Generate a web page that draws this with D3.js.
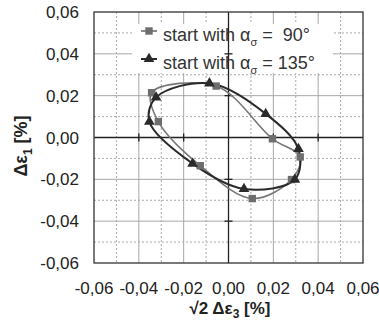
<!DOCTYPE html>
<html>
<head>
<meta charset="utf-8">
<script src="https://cdn.jsdelivr.net/npm/d3@7"></script>
<style>
  body { margin: 0; background: #fff; }
  text { font-family: "Liberation Sans", Arial, sans-serif; }
</style>
</head>
<body>
<script>
//Size of the page
var w = 379;
var h = 327;

//Data: loop starting with alpha = 90 deg (squares)
var sq90X = [-0.0343, -0.0055, 0.0196, 0.0320, 0.0281, 0.0106, -0.0126, -0.0313];
var sq90Y = [0.0214, 0.0246, -0.0006, -0.0093, -0.0201, -0.0292, -0.0135, 0.0076];

//Data: loop starting with alpha = 135 deg (triangles)
var tr135X = [-0.0323, -0.0085, 0.0166, 0.0312, 0.0296, 0.0069, -0.0160, -0.0353];
var tr135Y = [0.0192, 0.0259, 0.0113, -0.0055, -0.0201, -0.0246, -0.0125, 0.0076];

//Tick labels
var majorTicks = [-0.06, -0.04, -0.02, 0, 0.02, 0.04, 0.06];
var minorTicks = [-0.05, -0.03, -0.01, 0.01, 0.03, 0.05];
var tickLabels = ["-0,06", "-0,04", "-0,02", "0,00", "0,02", "0,04", "0,06"];

var legendNames = ["\u00a090°", "135°"];

//Plot area
var pLeft = 94, pRight = 363, pTop = 12, pBottom = 263;

var x = d3.scaleLinear().domain([-0.06, 0.06]).range([pLeft, pRight]);
var y = d3.scaleLinear().domain([-0.06, 0.06]).range([pBottom, pTop]);

var svg = d3.select("body")
            .append("svg")
            .attr("width", w)
            .attr("height", h);

//Minor (dotted) grid
svg.selectAll("line.vminor")
   .data(minorTicks).enter().append("line")
   .attr("x1", function(d) { return x(d); }).attr("x2", function(d) { return x(d); })
   .attr("y1", pTop).attr("y2", pBottom)
   .attr("stroke", "#aaa").attr("stroke-dasharray", "2,2");
svg.selectAll("line.hminor")
   .data(minorTicks).enter().append("line")
   .attr("y1", function(d) { return y(d); }).attr("y2", function(d) { return y(d); })
   .attr("x1", pLeft).attr("x2", pRight)
   .attr("stroke", "#aaa").attr("stroke-dasharray", "2,2");

//Major (solid) grid
var majorInner = majorTicks.filter(function(d) { return d != 0 && Math.abs(d) < 0.06; });
svg.selectAll("line.vmajor")
   .data(majorInner).enter().append("line")
   .attr("x1", function(d) { return x(d); }).attr("x2", function(d) { return x(d); })
   .attr("y1", pTop).attr("y2", pBottom)
   .attr("stroke", "#a8a8a8");
svg.selectAll("line.hmajor")
   .data(majorInner).enter().append("line")
   .attr("y1", function(d) { return y(d); }).attr("y2", function(d) { return y(d); })
   .attr("x1", pLeft).attr("x2", pRight)
   .attr("stroke", "#a8a8a8");

//Legend background covers the grid
svg.append("rect")
   .attr("x", 132).attr("y", 24)
   .attr("width", 201).attr("height", 49)
   .attr("fill", "#fff");

//Zero axes with crossing ticks
svg.append("line")
   .attr("x1", x(0)).attr("x2", x(0)).attr("y1", pTop).attr("y2", pBottom)
   .attr("stroke", "#222").attr("stroke-width", 1.3);
svg.append("line")
   .attr("y1", y(0)).attr("y2", y(0)).attr("x1", pLeft).attr("x2", pRight)
   .attr("stroke", "#222").attr("stroke-width", 1.3);
svg.selectAll("line.xtick")
   .data(majorInner).enter().append("line")
   .attr("x1", function(d) { return x(d); }).attr("x2", function(d) { return x(d); })
   .attr("y1", y(0) - 4).attr("y2", y(0) + 4)
   .attr("stroke", "#222").attr("stroke-width", 1.3);
svg.selectAll("line.ytick")
   .data(majorInner).enter().append("line")
   .attr("y1", function(d) { return y(d); }).attr("y2", function(d) { return y(d); })
   .attr("x1", x(0) - 4).attr("x2", x(0) + 4)
   .attr("stroke", "#222").attr("stroke-width", 1.3);

//Frame
svg.append("rect")
   .attr("x", pLeft).attr("y", pTop)
   .attr("width", pRight - pLeft).attr("height", pBottom - pTop)
   .attr("fill", "none").attr("stroke", "#333").attr("stroke-width", 1.3);

//Tick labels
svg.selectAll("text.ylab")
   .data(majorTicks).enter().append("text")
   .attr("x", 79).attr("y", function(d) { return y(d) + 6; })
   .attr("text-anchor", "end")
   .style("font-size", "17px").attr("fill", "#222")
   .text(function(d, i) { return tickLabels[i]; });
svg.selectAll("text.xlab")
   .data(majorTicks).enter().append("text")
   .attr("x", function(d) { return x(d); }).attr("y", 294)
   .attr("text-anchor", "middle")
   .style("font-size", "17px").attr("fill", "#222")
   .text(function(d, i) { return tickLabels[i]; });

//Axis titles
var xt = svg.append("text")
   .attr("x", 230).attr("y", 314)
   .attr("text-anchor", "middle")
   .style("font-size", "17px").style("font-weight", "bold").attr("fill", "#222");
xt.append("tspan").text("√2 Δε");
xt.append("tspan").attr("dy", 4).style("font-size", "12px").text("3");
xt.append("tspan").attr("dy", -4).text(" [%]");

var yt = svg.append("text")
   .attr("transform", "translate(27,146) rotate(-90)")
   .attr("text-anchor", "middle")
   .style("font-size", "18px").style("font-weight", "bold").attr("fill", "#222");
yt.append("tspan").text("Δε");
yt.append("tspan").attr("dy", 5).style("font-size", "12px").text("1");
yt.append("tspan").attr("dy", -5).text(" [%]");

//Loops
var line = d3.line()
   .x(function(d) { return x(d[0]); })
   .y(function(d) { return y(d[1]); })
   .curve(d3.curveCatmullRomClosed.alpha(0.5));

var sq = sq90X.map(function(d, i) { return [d, sq90Y[i]]; });
var tr = tr135X.map(function(d, i) { return [d, tr135Y[i]]; });

svg.append("path").attr("d", line(sq))
   .attr("fill", "none").attr("stroke", "#777").attr("stroke-width", 1.6);
svg.append("path").attr("d", line(tr))
   .attr("fill", "none").attr("stroke", "#2a2a2a").attr("stroke-width", 2);

var squareSym = d3.symbol().type(d3.symbolSquare).size(55);
var triSym = d3.symbol().type(d3.symbolTriangle).size(50);

svg.selectAll("path.sq")
   .data(sq).enter().append("path")
   .attr("d", squareSym)
   .attr("transform", function(d) { return "translate(" + x(d[0]) + "," + y(d[1]) + ")"; })
   .attr("fill", "#6e6e6e");
svg.selectAll("path.tr")
   .data(tr).enter().append("path")
   .attr("d", triSym)
   .attr("transform", function(d) { return "translate(" + x(d[0]) + "," + y(d[1]) + ")"; })
   .attr("fill", "#2a2a2a");

//Legend
var legendColors = ["#6e6e6e", "#2a2a2a"];
var legendSyms = [squareSym, triSym];
legendNames.forEach(function(name, i) {
  var ly = 31 + i * 28;
  svg.append("line")
     .attr("x1", 141).attr("x2", 157).attr("y1", ly).attr("y2", ly)
     .attr("stroke", legendColors[i]).attr("stroke-width", i == 0 ? 1.6 : 2);
  svg.append("path")
     .attr("d", legendSyms[i])
     .attr("transform", "translate(149," + ly + ")")
     .attr("fill", legendColors[i]);
  var t = svg.append("text")
     .attr("x", 163).attr("y", ly + 10)
     .style("font-size", "18px").attr("fill", "#333");
  t.append("tspan").text("start with α");
  t.append("tspan").attr("dy", 5).style("font-size", "11px").text("σ");
  t.append("tspan").attr("dy", -5).text(" = " + name);
});
</script>
</body>
</html>
